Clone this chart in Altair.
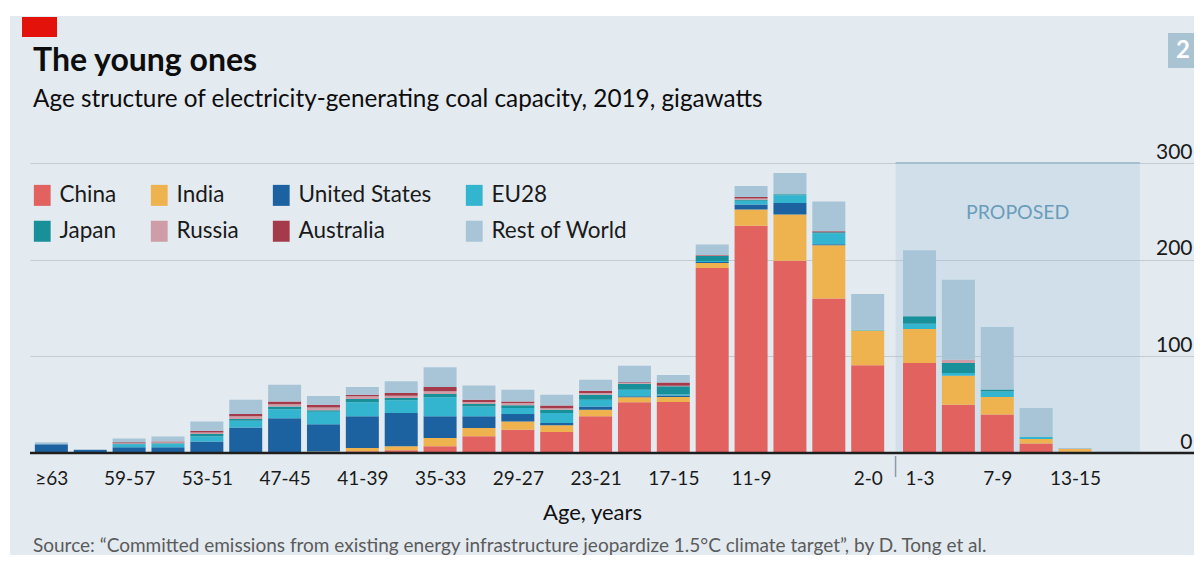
import json
import altair as alt
import pandas as pd

# ---------------- data ----------------
existing_ages = ["≥63", "62-60", "59-57", "56-54", "53-51", "50-48", "47-45", "44-42",
                 "41-39", "38-36", "35-33", "32-30", "29-27", "26-24", "23-21", "20-18",
                 "17-15", "14-12", "11-9", "8-6", "5-3", "2-0"]
proposed_ages = ["1-3", "4-6", "7-9", "10-12", "13-15", "16-18"]
tick_labels = ["≥63", "59-57", "53-51", "47-45", "41-39", "35-33", "29-27", "23-21",
               "17-15", "11-9", "2-0", "1-3", "7-9", "13-15"]
y_ticks = [0, 100, 200, 300]

countries = ["China", "India", "United States", "EU28", "Japan", "Russia", "Australia", "Rest of World"]
colors = ["#e2625f", "#eeb34f", "#1c62a0", "#34b5cf", "#17909a", "#cf9da7", "#a53a4b", "#a8c5d8"]

china = [0, 0, 0, 0, 0, 0, 0.3, 0.5, 1.7, 2.8, 6.9, 17.2, 24.1, 21.7, 37.9, 52.4, 52.8, 191.4, 235.2, 199, 159.7, 90.7,
         93.1, 50, 39.7, 9.7, 1.2, 0]
india = [0, 0, 0, 0, 0, 0, 0.5, 1, 3.4, 4.1, 8.6, 8.6, 8.6, 6.9, 6.9, 5.2, 5.2, 5.2, 16.6, 47.6, 55.2, 35.9,
         35.2, 30, 18.3, 4.8, 3, 0]
united_states = [9, 3, 6, 6, 12, 26.5, 35.2, 28.3, 32.8, 34.5, 22.4, 12.1, 7.6, 2.4, 3.4, 1, 1.4, 1, 5.2, 12.1, 1, 0,
                 0, 0, 0, 0, 0, 0]
eu28 = [0, 0, 3, 3.5, 5.2, 6.9, 9.3, 12.8, 14.5, 13.1, 19.7, 10.3, 6.2, 10.3, 6.9, 6.9, 1, 1, 4, 7.9, 11.4, 1,
        5.5, 2.8, 5.6, 2.1, 0, 0]
japan = [0, 0, 0.5, 0.5, 2.4, 1.7, 2.8, 1.7, 3.4, 2.4, 3.4, 2.4, 2.8, 3.4, 5.2, 6.2, 8.6, 5.2, 1, 1, 1, 0,
         7.6, 10.3, 2, 0, 0, 0]
russia = [0, 0, 0.5, 1, 1.7, 2.8, 2.4, 2.8, 2.8, 2.4, 2.8, 2.1, 2.4, 1.7, 1.7, 0.7, 0.5, 0.5, 1.4, 0, 0, 0,
          0, 3.4, 0, 0, 0, 0]
australia = [0, 0, 1, 1, 1.7, 2.4, 2.8, 2.8, 1.7, 2.8, 4.5, 2.4, 1.7, 2.8, 2.4, 0.7, 3.4, 0.5, 1.4, 0, 1, 0,
             0, 0, 0, 0, 0, 0]
rest_of_world = [2, 1, 4, 5, 9.7, 14.8, 17.2, 9, 7.9, 12.1, 20.3, 14.8, 12.1, 11, 11.4, 17.2, 7.9, 11, 11.4, 22.1, 31, 36.9,
                 68.3, 82.8, 64.8, 30, 1, 1.2]

series = [china, india, united_states, eu28, japan, russia, australia, rest_of_world]

# ---------------- layout ----------------
FONT = "Lato"
BG = "#e3eaf0"
W, H = 1164, 290
STEP, GAP = 3, 4
ages = existing_ages + proposed_ages
positions = [i * STEP for i in range(len(existing_ages))] + \
            [(len(existing_ages) - 1) * STEP + GAP + k * STEP for k in range(len(proposed_ages))]
pos_of = dict(zip(ages, positions))
px_per_unit = 39.21 / STEP
x_min = -16.5 / px_per_unit
x_max = x_min + W / px_per_unit

rows = []
for rank, (c, vals) in enumerate(zip(countries, series)):
    for a, p, v in zip(ages, positions, vals):
        rows.append({"age": a, "pos": p, "country": c, "rank": rank, "value": v})
df = pd.DataFrame(rows)

label_arr = [""] * (max(positions) + 1)
for t in tick_labels:
    label_arr[pos_of[t]] = t
label_expr = json.dumps(label_arr, ensure_ascii=False) + "[round(datum.value)]"

xscale = alt.Scale(domain=[x_min, x_max], nice=False, zero=False)
yscale = alt.Scale(domain=[0, 300], nice=False)

x_axis = alt.Axis(values=[pos_of[t] for t in tick_labels], labelExpr=label_expr,
                  grid=False, domain=False, ticks=False, tickSize=0,
                  labelFont=FONT, labelFontSize=19, labelColor="#1a1a1a",
                  labelPadding=16, labelFlush=False, labelOverlap=False,
                  title="Age, years", titleFont=FONT, titleFontSize=22,
                  titleFontWeight="normal", titleColor="#111111",
                  titleX=562, titleY=66, titleAlign="center", titleBaseline="alphabetic")
y_axis = alt.Axis(orient="right", values=y_ticks, grid=True, gridColor="#c3cad0",
                  gridWidth=1.2, domain=False, ticks=False, tickSize=0,
                  labelFont=FONT, labelFontSize=21, labelColor="#1a1a1a",
                  labelAlign="right", labelBaseline="alphabetic", labelPadding=-2,
                  labelOffset=-5, labelFlush=False, labelOverlap=False, title=None)

shade_start = positions[len(existing_ages)] - 1.85
shade_end = positions[-1] + 2.0
shade_df = pd.DataFrame({"x0": [shade_start], "x1": [shade_end], "lo": [0], "hi": [300],
                         "label": ["PROPOSED"], "mid": [(shade_start + shade_end) / 2]})

one = pd.DataFrame({"a": [0]})

shade = alt.Chart(shade_df).mark_rect(color="#96bed7", opacity=0.24).encode(
    x=alt.X("x0:Q", scale=xscale, axis=x_axis), x2="x1:Q",
    y=alt.Y("lo:Q", scale=yscale, axis=y_axis), y2="hi:Q")

shade_top = alt.Chart(shade_df).mark_rule(color="#a6bfcf", strokeWidth=2).encode(
    x=alt.X("x0:Q", scale=xscale, axis=x_axis), x2="x1:Q",
    y=alt.Y("hi:Q", scale=yscale, axis=y_axis))

proposed_text = alt.Chart(shade_df).mark_text(
    font=FONT, fontSize=19.5, color="#6a9dbb", baseline="middle", align="center").encode(
    x=alt.X("mid:Q", scale=xscale, axis=x_axis), y=alt.value(50), text="label:N")

bars = alt.Chart(df).transform_stack(
    stack="value", groupby=["pos"], as_=["y0", "y1"],
    sort=[alt.SortField("rank", order="ascending")]
).mark_bar(size=33).encode(
    x=alt.X("pos:Q", scale=xscale, axis=x_axis),
    y=alt.Y("y0:Q", scale=yscale, axis=y_axis),
    y2="y1:Q",
    color=alt.Color("country:N", scale=alt.Scale(domain=countries, range=colors),
                    legend=alt.Legend(orient="none", legendX=1, legendY=21, columns=4,
                                      direction="horizontal",
                                      title=None, padding=0, columnPadding=31, rowPadding=13,
                                      symbolType="M-0.8,-1H0.8V1H-0.8Z", symbolSize=441,
                                      symbolStrokeWidth=0, symbolOpacity=1, labelOffset=6,
                                      labelFont=FONT, labelFontSize=22.5, labelColor="#1a1a1a",
                                      labelLimit=300)),
)

zero_df = pd.DataFrame({"v": [0]})
baseline = alt.Chart(zero_df).mark_rule(color="#1e1e1e", strokeWidth=2.5).encode(
    y=alt.Y("v:Q", scale=yscale, axis=y_axis))

divider_df = pd.DataFrame({"x": [shade_start]})
divider = alt.Chart(divider_df).mark_rule(color="#8d9ba6", strokeWidth=1.5).encode(
    x=alt.X("x:Q", scale=xscale, axis=x_axis), y=alt.value(293), y2=alt.value(314))

# white page edges (top and left) around the panel
top_edge = alt.Chart(one).mark_rect(color="#ffffff").encode(
    x=alt.value(-22), x2=alt.value(W + 22), y=alt.value(-155), y2=alt.value(-147))
left_edge = alt.Chart(one).mark_rect(color="#ffffff").encode(
    x=alt.value(-22), x2=alt.value(-20), y=alt.value(-155), y2=alt.value(H + 102))

red_tab = alt.Chart(one).mark_rect(color="#e3120b").encode(
    x=alt.value(-8), x2=alt.value(27), y=alt.value(-146), y2=alt.value(-126))
title = alt.Chart(one).mark_text(font=FONT, fontSize=32, fontWeight="bold", color="#0d0d0d",
                                 align="left", baseline="alphabetic").encode(
    x=alt.value(3), y=alt.value(-92), text=alt.value("The young ones"))
subtitle = alt.Chart(one).mark_text(font=FONT, fontSize=24.3, color="#0d0d0d",
                                    align="left", baseline="alphabetic").encode(
    x=alt.value(3), y=alt.value(-56),
    text=alt.value("Age structure of electricity-generating coal capacity, 2019, gigawatts"))
source = alt.Chart(one).mark_text(font=FONT, fontSize=19, color="#5b5b5b",
                                  align="left", baseline="alphabetic").encode(
    x=alt.value(3), y=alt.value(389),
    text=alt.value("Source: “Committed emissions from existing energy infrastructure jeopardize 1.5°C climate target”, by D. Tong et al."))
num_box = alt.Chart(one).mark_rect(color="#a9c3d3").encode(
    x=alt.value(1138), x2=alt.value(1172), y=alt.value(-130), y2=alt.value(-95))
num_text = alt.Chart(one).mark_text(font=FONT, fontSize=24, fontWeight="bold", color="#ffffff",
                                    align="center", baseline="middle").encode(
    x=alt.value(1153), y=alt.value(-112), text=alt.value("2"))

chart = alt.layer(
    shade, shade_top, bars, baseline, divider, proposed_text,
    top_edge, left_edge, red_tab, title, subtitle, source, num_box, num_text
).properties(
    width=W, height=H,
    padding={"left": 22, "top": 155, "right": 0, "bottom": 102},
    autosize=alt.AutoSizeParams(type="none"),
    background=BG,
).configure_view(stroke=None)

chart.save("out.html", embed_options={"renderer": "svg", "actions": False})
